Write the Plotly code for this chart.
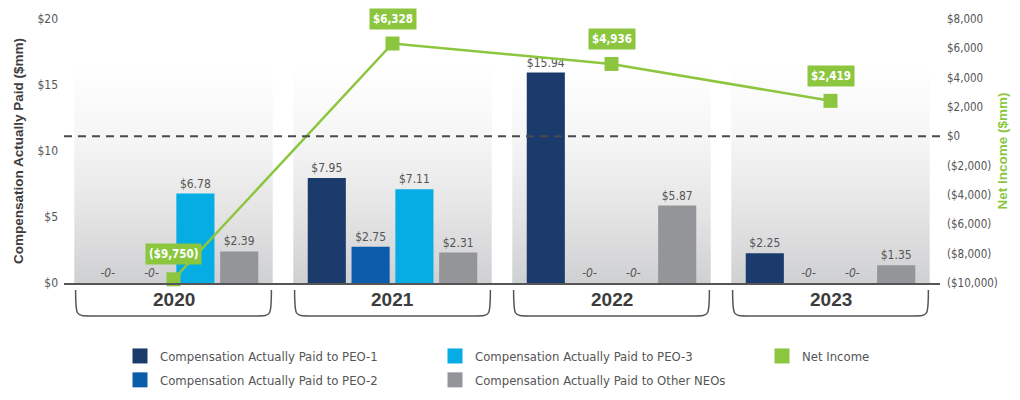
import plotly.graph_objects as go

# ---------------- data ----------------
years = ["2020", "2021", "2022", "2023"]
peo1 = [0, 7.95, 15.94, 2.25]
peo2 = [0, 2.75, 0, 0]
peo3 = [6.78, 7.11, 0, 0]
other_neos = [2.39, 2.31, 5.87, 1.35]
net_income = [-9750, 6328, 4936, 2419]

series_names = [
    "Compensation Actually Paid to PEO-1",
    "Compensation Actually Paid to PEO-2",
    "Compensation Actually Paid to PEO-3",
    "Compensation Actually Paid to Other NEOs",
]
net_name = "Net Income"

left_ticks = [0, 5, 10, 15, 20]
right_ticks = [-10000, -8000, -6000, -4000, -2000, 0, 2000, 4000, 6000, 8000]

# ---------------- style ----------------
COND = "DejaVu Sans Condensed, Liberation Sans Narrow, sans-serif"
SANS = "Liberation Sans, Arial, sans-serif"
bar_colors = ["#1a3b6c", "#0b5cab", "#06ade4", "#939598"]
GREEN = "#8cc63f"
TXT = "#555555"
DARK = "#3c3c3c"

W, H = 1012, 392          # page body adds an 8px offset
ML, MR, MT, MB = 56, 80, 11, 117
PW = W - ML - MR
PH = H - MT - MB


def money_left(v):
    return f"${v}"


def money_right(v):
    return f"${v:,}" if v >= 0 else f"(${-v:,})"


def bar_label(v):
    return f"${v:.2f}" if v > 0 else "<i>-0-</i>"


def px_to_paper_x(px):
    return (px - 8 - ML) / PW


def px_to_paper_y(py):
    return -(py - 8 - (MT + PH)) / PH


xs = list(range(len(years)))
fig = go.Figure()

# background gradient panels (base axes)
panel_half = 0.453
panel_top = 16.5
for i in xs:
    fig.add_trace(go.Scatter(
        x=[i - panel_half, i + panel_half, i + panel_half, i - panel_half, i - panel_half],
        y=[0, 0, panel_top, panel_top, 0],
        mode="lines", line=dict(width=0), fill="toself",
        fillgradient=dict(type="vertical",
                          colorscale=[[0, "#cfd0d2"], [0.3, "#e3e3e4"], [0.65, "#f5f5f5"], [1, "#ffffff"]]),
        showlegend=False, hoverinfo="skip", xaxis="x", yaxis="y",
    ))

# bars (overlay axis so they sit above the panels)
for name, vals, col in zip(series_names, [peo1, peo2, peo3, other_neos], bar_colors):
    fig.add_trace(go.Bar(
        x=xs, y=vals, name=name, marker=dict(color=col, line=dict(width=0)),
        text=[bar_label(v) for v in vals], textposition="outside",
        textfont=dict(family=COND, size=12, color=TXT),
        constraintext="none", cliponaxis=False, showlegend=False,
        xaxis="x", yaxis="y2",
    ))

# net income line
fig.add_trace(go.Scatter(
    x=xs, y=net_income, name=net_name, mode="lines+markers",
    line=dict(color=GREEN, width=2.5),
    marker=dict(symbol="square", size=14, color=GREEN),
    cliponaxis=False, showlegend=False, xaxis="x", yaxis="y3",
))

# legend entries
legend_ids = ["legend", "legend", "legend2", "legend2"]
for name, col, lg in zip(series_names, bar_colors, legend_ids):
    fig.add_trace(go.Scatter(x=[None], y=[None], mode="markers", name=name,
                             marker=dict(symbol="square", size=15, color=col),
                             legend=lg, legendgroup=name, xaxis="x", yaxis="y3"))
fig.add_trace(go.Scatter(x=[None], y=[None], mode="markers", name=net_name,
                         marker=dict(symbol="square", size=15, color=GREEN),
                         legend="legend3", legendgroup=net_name, xaxis="x", yaxis="y3"))

annotations = []
for i, v in zip(xs, net_income):
    annotations.append(dict(
        x=i, y=v, xref="x", yref="y3", text=f"<b>{money_right(v)}</b>", showarrow=False,
        yshift=25, font=dict(family=COND, size=11.5, color="white"),
        bgcolor=GREEN, borderpad=3,
    ))
for i, yr in zip(xs, years):
    annotations.append(dict(
        x=i, y=-0.0625, xref="x", yref="paper", text=f"<b>{yr}</b>", showarrow=False,
        yanchor="middle", font=dict(family=SANS, size=19, color=DARK),
    ))

shapes = []
yt, yb, r, hw = -0.0265, -0.125, 0.068, 0.447
for i in xs:
    x0, x1 = i - hw, i + hw
    path = (f"M {x0},{yt} C {x0},{yb} {x0},{yb} {x0 + r},{yb} "
            f"L {x1 - r},{yb} C {x1},{yb} {x1},{yb} {x1},{yt}")
    shapes.append(dict(type="path", path=path, xref="x", yref="paper",
                       line=dict(color="#555555", width=1.5)))
shapes.append(dict(type="line", xref="paper", x0=0, x1=1, yref="y3", y0=0, y1=0,
                   line=dict(color="#4a4a4a", width=2, dash="8px,6px"), layer="above"))

legend_y = px_to_paper_y(341)
legend_common = dict(xref="paper", yref="paper", xanchor="left", yanchor="top",
                     y=legend_y, font=dict(family=COND, size=13, color=TXT),
                     bgcolor="rgba(0,0,0,0)", tracegroupgap=4, itemclick=False,
                     orientation="v")

fig.update_layout(
    width=W, height=H,
    margin=dict(l=ML, r=MR, t=MT, b=MB, autoexpand=False),
    paper_bgcolor="white", plot_bgcolor="white",
    barmode="group", bargap=0.2, bargroupgap=0.13,
    font=dict(family=COND, color=TXT),
    xaxis=dict(range=[-0.5, 3.5], showgrid=False, zeroline=False, showticklabels=False,
               showline=True, linecolor="#555555", linewidth=2, ticks=""),
    yaxis=dict(range=[0, 20], tickvals=left_ticks, ticktext=[money_left(v) for v in left_ticks],
               showgrid=False, zeroline=False, showline=False, ticks="",
               tickfont=dict(family=COND, size=12, color=TXT), ticklabelstandoff=5,
               title=dict(text="<b>Compensation Actually Paid ($mm)</b>",
                          font=dict(family=SANS, size=13.5, color=DARK), standoff=10)),
    yaxis2=dict(range=[0, 20], overlaying="y", visible=False),
    yaxis3=dict(range=[-10000, 8000], overlaying="y", side="right",
                tickvals=right_ticks, ticktext=[money_right(v) for v in right_ticks],
                showgrid=False, zeroline=False, showline=False, ticks="",
                tickfont=dict(family=COND, size=11.5, color=TXT), ticklabelstandoff=6,
                title=dict(text="<b>Net Income ($mm)</b>",
                           font=dict(family=SANS, size=13.5, color=GREEN), standoff=0)),
    legend=dict(x=px_to_paper_x(120), **legend_common),
    legend2=dict(x=px_to_paper_x(435), **legend_common),
    legend3=dict(x=px_to_paper_x(762), **legend_common),
    annotations=annotations,
    shapes=shapes,
)

fig.write_html("out.html")
